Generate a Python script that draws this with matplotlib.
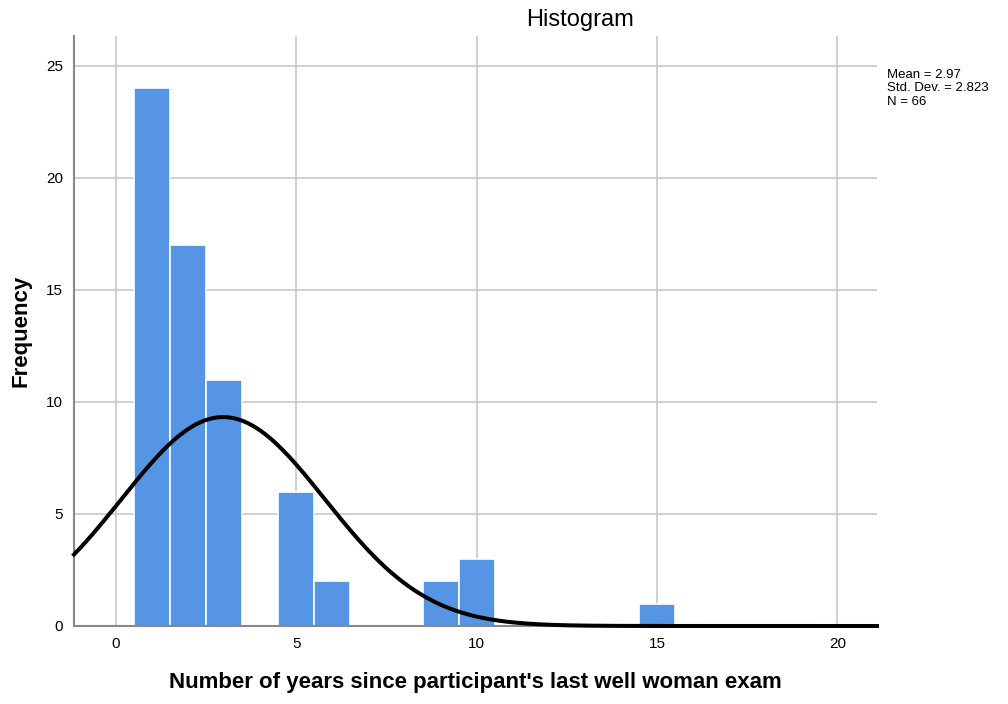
import numpy as np
import matplotlib.pyplot as plt

plt.rcParams['font.family'] = ['Liberation Sans', 'DejaVu Sans']

# Histogram counts (bin centres, width 1)
years = [1, 2, 3, 5, 6, 9, 10, 15]
counts = [24, 17, 11, 6, 2, 2, 3, 1]
mean, sd, n = 2.97, 2.823, 66

fig = plt.figure(figsize=(10.08, 7.04), dpi=100)
ax = fig.add_axes([0.0734, 0.1108, 0.7966, 0.8381])

ax.set_axisbelow(True)
ax.grid(color='#c8c8c8', linewidth=1.2)
ax.bar(years, counts, width=1.0, color='#5595e4', edgecolor='white', linewidth=1.2, zorder=2)

xlo, xhi = -1.165, 21.1
xs = np.linspace(xlo, xhi, 400)
ys = n * 1.0 / (sd * np.sqrt(2 * np.pi)) * np.exp(-0.5 * ((xs - mean) / sd) ** 2)
ax.plot(xs, ys, color='black', linewidth=2.9, zorder=3, clip_on=False)

ax.set_xlim(xlo, xhi)
ax.set_ylim(0, 26.34)
ax.set_xticks([0, 5, 10, 15, 20])
ax.set_yticks([0, 5, 10, 15, 20, 25])
ax.tick_params(length=0, labelsize=11, pad=8)
for s in ['top', 'right']:
    ax.spines[s].set_visible(False)
for s in ['left', 'bottom']:
    ax.spines[s].set_color('#888888')
    ax.spines[s].set_linewidth(1.5)

ax.set_xlabel("Number of years since participant's last well woman exam", fontsize=16, fontweight='bold', labelpad=15)
ax.set_ylabel('Frequency', fontsize=16, fontweight='bold', labelpad=10)
fig.text(0.575, 0.987, 'Histogram', fontsize=17, ha='center', va='top')

fig.text(0.880, 0.902, 'Mean = 2.97\nStd. Dev. = 2.823\nN = 66', fontsize=9.5,
         va='top', ha='left', linespacing=1.15)

fig.savefig('out.png', dpi=100)
